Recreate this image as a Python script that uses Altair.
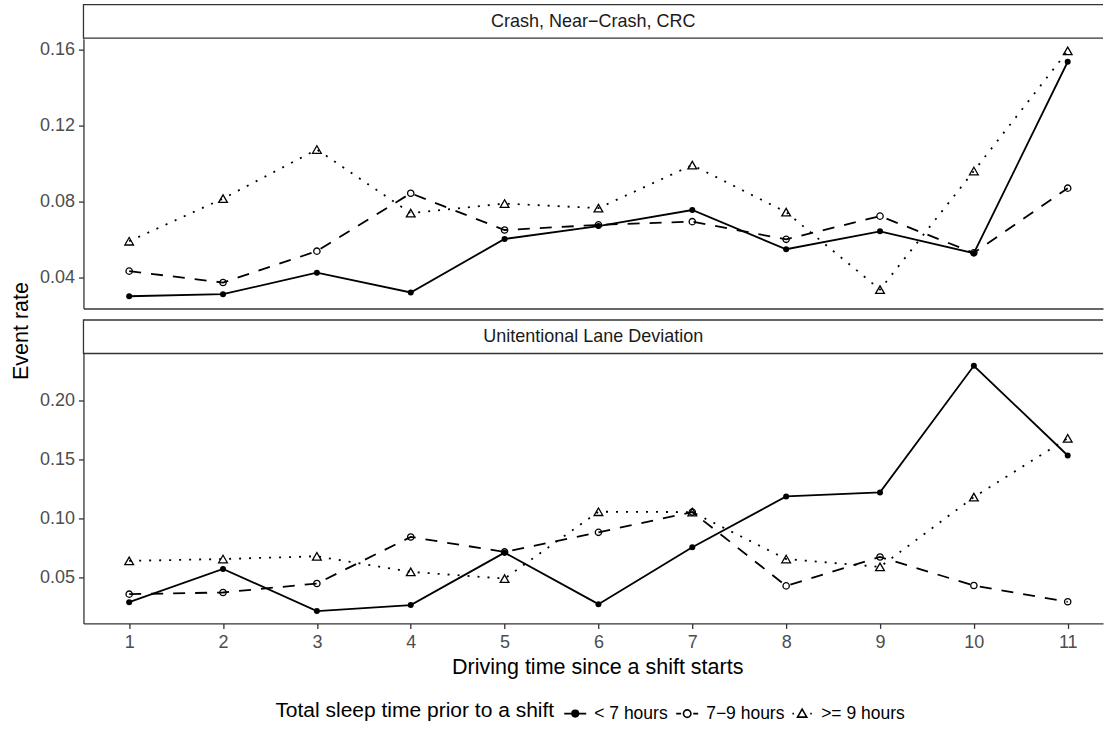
import altair as alt
import pandas as pd

# ---------------- data ----------------
hours = list(range(1, 12))
groups = ["< 7 hours", "7\u22129 hours", ">= 9 hours"]
panels = ["Crash, Near\u2212Crash, CRC", "Unitentional Lane Deviation"]

crash_lt7 = [0.0302, 0.0313, 0.0426, 0.0322, 0.0603, 0.0671, 0.0755, 0.0549, 0.0643, 0.0528, 0.1534]
crash_7to9 = [0.0434, 0.0374, 0.0539, 0.0843, 0.0650, 0.0677, 0.0694, 0.0601, 0.0723, 0.0530, 0.0870]
crash_ge9 = [0.0591, 0.0815, 0.1073, 0.0739, 0.0789, 0.0765, 0.0991, 0.0744, 0.0337, 0.0960, 0.1591]

lane_lt7 = [0.0291, 0.0573, 0.0215, 0.0266, 0.0711, 0.0274, 0.0756, 0.1188, 0.1222, 0.2296, 0.1535]
lane_7to9 = [0.0359, 0.0373, 0.0449, 0.0844, 0.0717, 0.0883, 0.1055, 0.0429, 0.0674, 0.0432, 0.0294]
lane_ge9 = [0.0641, 0.0657, 0.0680, 0.0548, 0.0491, 0.1058, 0.1055, 0.0657, 0.0590, 0.1182, 0.1681]

crash_ticks = [0.04, 0.08, 0.12, 0.16]
lane_ticks = [0.05, 0.10, 0.15, 0.20]

x_title = "Driving time since a shift starts"
y_title = "Event rate"
legend_title = "Total sleep time prior to a shift"

rows = []
for pname, series in zip(panels, [[crash_lt7, crash_7to9, crash_ge9],
                                  [lane_lt7, lane_7to9, lane_ge9]]):
    for g, vals in zip(groups, series):
        for h, v in zip(hours, vals):
            rows.append({"panel": pname, "group": g, "hour": h, "rate": v})
df = pd.DataFrame(rows)

# ---------------- styling ----------------
FONT = "Liberation Sans"
W = 1020
H_PANEL = 270
H_STRIP = 33.5
GAP = 11.5
BORDER = "#333333"
BW = 1.3
X_DOMAIN = [0.513, 11.376]
SMALL = 18
BIG = 21.5

styles = {
    groups[0]: dict(dash=None, shape="circle", filled=True, size=36),
    groups[1]: dict(dash=[12, 10], shape="circle", filled=False, size=40),
    groups[2]: dict(dash=[2, 8], shape="triangle-up", filled=False, size=76),
}

legend_paths = [
    "M-1,0H1M0.3,0A0.3,0.3,0,1,1,-0.3,0A0.3,0.3,0,1,1,0.3,0Z",
    "M-1,0H-0.55M0.55,0H1M0.34,0A0.34,0.34,0,1,1,-0.34,0A0.34,0.34,0,1,1,0.34,0Z",
    "M-0.88,0H-0.74M0.74,0H0.88M0,-0.4L0.42,0.32L-0.42,0.32Z",
]


def strip(label, offset):
    s = pd.DataFrame({"label": [label]})
    base = alt.Chart(s)
    text = base.mark_text(fontSize=SMALL, color="#1A1A1A", font=FONT,
                          align="center", baseline="middle").encode(
        text="label:N", x=alt.value(W / 2), y=alt.value(offset + H_STRIP / 2 + 0.5))
    top = base.mark_rule(color=BORDER, strokeWidth=BW).encode(
        x=alt.value(0), x2=alt.value(W), y=alt.value(offset))
    bottom = base.mark_rule(color=BORDER, strokeWidth=BW).encode(
        x=alt.value(0), x2=alt.value(W), y=alt.value(offset + H_STRIP))
    left = base.mark_rule(color=BORDER, strokeWidth=BW, strokeCap="square").encode(
        x=alt.value(0), y=alt.value(offset), y2=alt.value(offset + H_STRIP))
    return alt.layer(text, top, bottom, left).properties(width=W, height=offset + H_STRIP)


def panel(pname, ticks, bottom_axis, with_legend):
    d = df[df["panel"] == pname]
    lo, hi = d["rate"].min(), d["rate"].max()
    r = hi - lo
    ydom = [lo - 0.05 * r, hi + 0.05 * r]

    if bottom_axis:
        xaxis = alt.Axis(values=hours, format="d", title=x_title, labelPadding=5.5,
                         titleX=514, titleY=50, titleAlign="center",
                         titleBaseline="alphabetic")
    else:
        xaxis = alt.Axis(labels=False, ticks=False, title=None, domain=True)

    if not bottom_axis:
        yaxis = alt.Axis(values=ticks, format=".2f", title=y_title,
                         titleX=-62.4, titleY=292, titleAngle=270,
                         titleAlign="center", titleBaseline="middle")
    else:
        yaxis = alt.Axis(values=ticks, format=".2f", title=None)

    x = alt.X("hour:Q", scale=alt.Scale(domain=X_DOMAIN, nice=False, zero=False), axis=xaxis)
    y = alt.Y("rate:Q", scale=alt.Scale(domain=ydom, nice=False, zero=False), axis=yaxis)

    layers = []
    for g in groups:
        st = styles[g]
        kw = dict(color="black", strokeWidth=1.8, strokeCap="butt")
        if st["dash"] is not None:
            kw["strokeDash"] = st["dash"]
        layers.append(alt.Chart(d).transform_filter(alt.datum.group == g)
                      .mark_line(**kw).encode(x=x, y=y))
    for g in groups:
        st = styles[g]
        layers.append(alt.Chart(d).transform_filter(alt.datum.group == g)
                      .mark_point(shape=st["shape"], filled=st["filled"], size=st["size"],
                                  color="black", strokeWidth=1.3, opacity=1)
                      .encode(x=x, y=y))
    if with_legend:
        leg = dict(orient="none", legendX=192, legendY=697, direction="horizontal",
                   title=legend_title, titleOrient="left", titleFontSize=21,
                   titleFontWeight="normal", titleColor="black", titleFont=FONT,
                   titleBaseline="middle", titlePadding=9, titleLimit=1000,
                   labelFontSize=17.5, labelColor="black", labelFont=FONT, labelOffset=7,
                   labelLimit=1000, columnPadding=4, symbolSize=484,
                   symbolStrokeWidth=1.6, symbolStrokeColor="black", symbolOpacity=1)
        layers.append(
            alt.Chart(d).transform_filter("false")
            .mark_point(size=484, color="black", stroke="black", strokeWidth=1.6,
                        opacity=1, filled=False)
            .encode(
                x=x, y=y,
                shape=alt.Shape("group:N", scale=alt.Scale(domain=groups, range=legend_paths),
                                legend=alt.Legend(**leg)),
                fill=alt.Fill("group:N", scale=alt.Scale(domain=groups,
                                                         range=["black", "transparent", "transparent"]),
                              legend=alt.Legend(**leg)),
                stroke=alt.Stroke("group:N", scale=alt.Scale(domain=groups,
                                                             range=["black", "black", "black"]),
                                  legend=alt.Legend(**leg)),
            )
        )
    return alt.layer(*layers).properties(width=W, height=H_PANEL)


chart = (
    alt.vconcat(
        strip(panels[0], 0),
        panel(panels[0], crash_ticks, False, False),
        strip(panels[1], GAP),
        panel(panels[1], lane_ticks, True, True),
        spacing=0, bounds="flush",
    )
    .properties(padding={"left": 9.5, "top": 3.5, "right": 0, "bottom": 0})
    .configure(font=FONT)
    .configure_view(stroke=None)
    .configure_axis(grid=False, domainColor=BORDER, domainWidth=BW, tickColor=BORDER,
                    tickWidth=BW, tickSize=5, labelColor="#4D4D4D", labelFontSize=SMALL,
                    labelFont=FONT, titleFont=FONT, titleFontSize=BIG, titleColor="black",
                    titleFontWeight="normal", labelPadding=4)
)

chart.save("out.html", embed_options={"renderer": "svg", "actions": False})
